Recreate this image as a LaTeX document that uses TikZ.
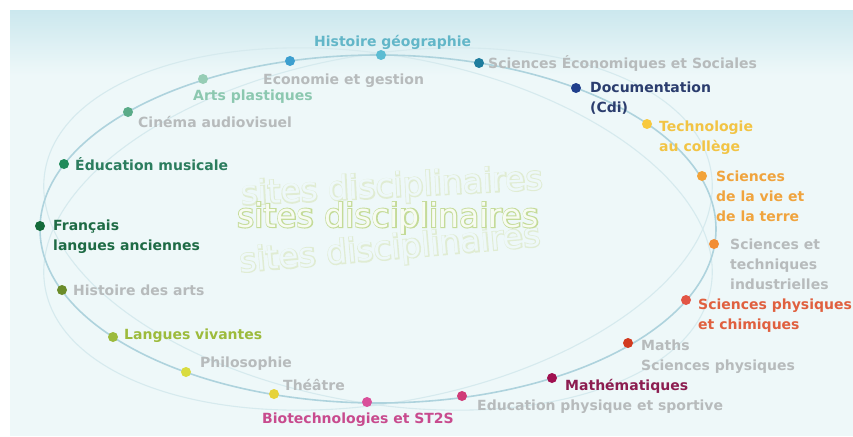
\documentclass[tikz,border=0pt]{standalone}
\usepackage{fontspec}
\setmainfont{DejaVu Sans}
\newfontfamily\hubbold{DejaVu Sans}[FakeBold=6]
\usetikzlibrary{positioning}
\definecolor{panel}{HTML}{EEF8F9}
\definecolor{paneltop}{HTML}{CCE8EE}
\definecolor{ringmain}{HTML}{AED3DD}
\definecolor{ringfaint}{HTML}{D6EAEE}
\definecolor{hubline}{HTML}{C4DB98}
\definecolor{hubfill}{HTML}{F7FBF2}
\definecolor{hubghost}{HTML}{E0ECD3}
\definecolor{greytxt}{HTML}{B7BBBC}
\definecolor{cGeo}{HTML}{5CBCD2}\definecolor{tGeo}{HTML}{62B6C8}
\definecolor{cEco}{HTML}{3D9FCF}
\definecolor{cArt}{HTML}{96CDB5}\definecolor{tArt}{HTML}{8CC8B0}
\definecolor{cCin}{HTML}{5AAB88}
\definecolor{cMus}{HTML}{1E8A5A}\definecolor{tMus}{HTML}{2B7D5E}
\definecolor{cFra}{HTML}{146B3A}\definecolor{tFra}{HTML}{1E6B45}
\definecolor{cHda}{HTML}{6B8C2A}
\definecolor{cLv}{HTML}{9CBB3C}\definecolor{tLv}{HTML}{9DBB3C}
\definecolor{cPhi}{HTML}{D9DC40}
\definecolor{cThe}{HTML}{E6D23A}
\definecolor{cBio}{HTML}{D9509A}\definecolor{tBio}{HTML}{C84B8E}
\definecolor{cEps}{HTML}{D03C78}
\definecolor{cMat}{HTML}{A01050}\definecolor{tMat}{HTML}{8C1D50}
\definecolor{cMsp}{HTML}{D23B20}
\definecolor{cSpc}{HTML}{E25545}\definecolor{tSpc}{HTML}{E0603F}
\definecolor{cSti}{HTML}{F28E35}
\definecolor{cSvt}{HTML}{F2A33A}\definecolor{tSvt}{HTML}{F0A43E}
\definecolor{cTec}{HTML}{F8C93E}\definecolor{tTec}{HTML}{F2C445}
\definecolor{cDoc}{HTML}{203F8C}\definecolor{tDoc}{HTML}{2B3D6E}
\definecolor{cSes}{HTML}{1F7D9E}
\newcommand\hubtext[2]{\rlap{\hubbold\textcolor{#1}{sites disciplinaires}}\textcolor{#2}{sites disciplinaires}}

\begin{document}
\begin{tikzpicture}[x=1pt,y=-1pt,
  spot/.style={circle,fill=#1,inner sep=0pt,minimum size=10pt},
  subj/.style={font=\fontsize{14}{20}\selectfont\bfseries,text=#1,align=left,inner sep=0pt,anchor=base west},
  ghost/.style={draw=ringfaint,line width=1.1pt}]
\useasboundingbox (0,0) rectangle (853,436);
\fill[panel] (10,11) rectangle (853,436);
\shade[top color=paneltop,bottom color=panel] (10,11) rectangle (853,75);
% orbits
\draw[ghost,rotate around={10:(378,229)}] (378,229) ellipse [x radius=338,y radius=174];
\draw[ghost,rotate around={-10:(378,229)}] (378,229) ellipse [x radius=338,y radius=174];
\draw[ringmain,line width=1.6pt] (378,229) ellipse [x radius=338,y radius=174];
% centre
\node[rotate=3,font=\fontsize{33}{33}\selectfont] (hubUp) at (392,188) {\hubtext{hubghost}{panel}};
\node[rotate=5,font=\fontsize{33}{33}\selectfont] (hubDown) at (390,250) {\hubtext{hubghost}{panel}};
\node[font=\fontsize{33}{33}\selectfont] (hub) at (388,218) {\hubtext{hubline}{hubfill}};
% dots
\node[spot=cGeo] (dGeo) at (381,55) {};
\node[spot=cEco] (dEco) at (290,61) {};
\node[spot=cArt] (dArt) at (203,79) {};
\node[spot=cCin] (dCin) at (128,112) {};
\node[spot=cMus] (dMus) at (64,164) {};
\node[spot=cFra] (dFra) at (40,226) {};
\node[spot=cHda] (dHda) at (62,290) {};
\node[spot=cLv] (dLv) at (113,337) {};
\node[spot=cPhi] (dPhi) at (186,372) {};
\node[spot=cThe] (dThe) at (274,394) {};
\node[spot=cBio] (dBio) at (367,402) {};
\node[spot=cEps] (dEps) at (462,396) {};
\node[spot=cMat] (dMat) at (552,378) {};
\node[spot=cMsp] (dMsp) at (628,343) {};
\node[spot=cSpc] (dSpc) at (686,300) {};
\node[spot=cSti] (dSti) at (714,244) {};
\node[spot=cSvt] (dSvt) at (702,176) {};
\node[spot=cTec] (dTec) at (647,124) {};
\node[spot=cDoc] (dDoc) at (576,88) {};
\node[spot=cSes] (dSes) at (479,63) {};
% labels (base = last line)
\node[subj=tGeo] (lGeo) at (314,47) {Histoire géographie};
\node[subj=greytxt] (lEco) at (263,84) {Economie et gestion};
\node[subj=tArt] (lArt) at (193,100) {Arts plastiques};
\node[subj=greytxt] (lCin) at (138,127) {Cinéma audiovisuel};
\node[subj=tMus] (lMus) at (75,170) {Éducation musicale};
\node[subj=tFra] (lFra) at (53,250) {Français\\langues anciennes};
\node[subj=greytxt] (lHda) at (73,295) {Histoire des arts};
\node[subj=tLv] (lLv) at (124,339) {Langues vivantes};
\node[subj=greytxt] (lPhi) at (200,367) {Philosophie};
\node[subj=greytxt] (lThe) at (283,390) {Théâtre};
\node[subj=tBio] (lBio) at (262,423) {Biotechnologies et ST2S};
\node[subj=greytxt] (lEps) at (477,410) {Education physique et sportive};
\node[subj=tMat] (lMat) at (565,390) {Mathématiques};
\node[subj=greytxt] (lMsp) at (641,370) {Maths\\Sciences physiques};
\node[subj=tSpc] (lSpc) at (698,329) {Sciences physiques\\et chimiques};
\node[subj=greytxt] (lSti) at (730,289) {Sciences et\\techniques\\industrielles};
\node[subj=tSvt] (lSvt) at (716,221) {Sciences\\de la vie et\\de la terre};
\node[subj=tTec] (lTec) at (659,151) {Technologie\\au collège};
\node[subj=tDoc] (lDoc) at (590,112) {Documentation\\(Cdi)};
\node[subj=greytxt] (lSes) at (488,68) {Sciences Économiques et Sociales};
\end{tikzpicture}
\end{document}
